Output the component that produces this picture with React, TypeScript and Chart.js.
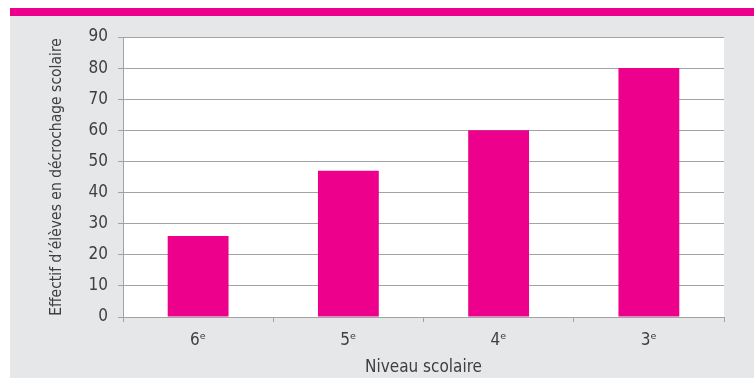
import React, { useEffect, useRef } from "react";
import { Chart, registerables } from "chart.js";

Chart.register(...registerables);

const categories = ["6ᵉ", "5ᵉ", "4ᵉ", "3ᵉ"];
const values = [26, 47, 60, 80];
const yMax = 90;
const yStep = 10;
const xTitle = "Niveau scolaire";
const yTitle = "Effectif d’élèves en décrochage scolaire";

const PINK = "#EC008C";
const GRAY_BG = "#E6E7E8";
const GRID = "#A3A3A3";
const TEXT = "#3F3F3F";
const FONT = '"Liberation Sans Narrow", "DejaVu Sans Condensed", "Arial Narrow", sans-serif';

const plotBg = {
  id: "plotBg",
  beforeDraw(chart: any) {
    const { ctx, chartArea } = chart;
    ctx.save();
    ctx.fillStyle = "#FFFFFF";
    ctx.fillRect(chartArea.left, chartArea.top, chartArea.right - chartArea.left, chartArea.bottom - chartArea.top);
    ctx.restore();
  },
};

export default function App() {
  const ref = useRef<HTMLCanvasElement | null>(null);
  useEffect(() => {
    if (!ref.current) return;
    const chart = new Chart(ref.current, {
      type: "bar",
      data: {
        labels: categories,
        datasets: [
          {
            data: values,
            backgroundColor: PINK,
            borderWidth: 0,
            barPercentage: 0.405,
            categoryPercentage: 1,
          },
        ],
      },
      options: {
        animation: false,
        responsive: false,
        maintainAspectRatio: false,
        layout: { padding: { top: 21, right: 30, left: 38, bottom: 0 } },
        plugins: { legend: { display: false }, tooltip: { enabled: false } },
        scales: {
          y: {
            min: 0,
            max: yMax,
            afterFit(scale: any) {
              scale.width = 75;
            },
            ticks: {
              stepSize: yStep,
              padding: 10,
              color: TEXT,
              font: { family: FONT, size: 17 },
            },
            grid: { color: GRID, lineWidth: 1, tickLength: 5, drawTicks: true },
            border: { color: GRID, width: 1 },
            title: {
              display: true,
              text: yTitle,
              color: TEXT,
              font: { family: FONT, size: 15.5 },
              padding: { top: 0, bottom: 0 },
            },
          },
          x: {
            afterFit(scale: any) {
              scale.height = 61;
            },
            ticks: {
              padding: 8,
              color: TEXT,
              font: { family: FONT, size: 17 },
            },
            grid: { color: GRID, lineWidth: 1, tickLength: 5, drawOnChartArea: false, offset: true },
            border: { color: GRID, width: 1 },
            title: {
              display: true,
              text: xTitle,
              color: TEXT,
              font: { family: FONT, size: 17 },
              padding: { top: 4, bottom: 0 },
            },
          },
        },
      },
      plugins: [plotBg],
    });
    return () => chart.destroy();
  }, []);

  return (
    <div style={{ position: "absolute", left: 0, top: 0, width: 754, height: 378, background: "#FFFFFF", overflow: "hidden" }}>
      <div style={{ position: "absolute", left: 10, top: 8, width: 744, height: 8, background: PINK }} />
      <div style={{ position: "absolute", left: 10, top: 16, width: 744, height: 362, background: GRAY_BG }} />
      <canvas
        ref={ref}
        width={744}
        height={362}
        style={{ position: "absolute", left: 10, top: 16, width: 744, height: 362 }}
      />
    </div>
  );
}
